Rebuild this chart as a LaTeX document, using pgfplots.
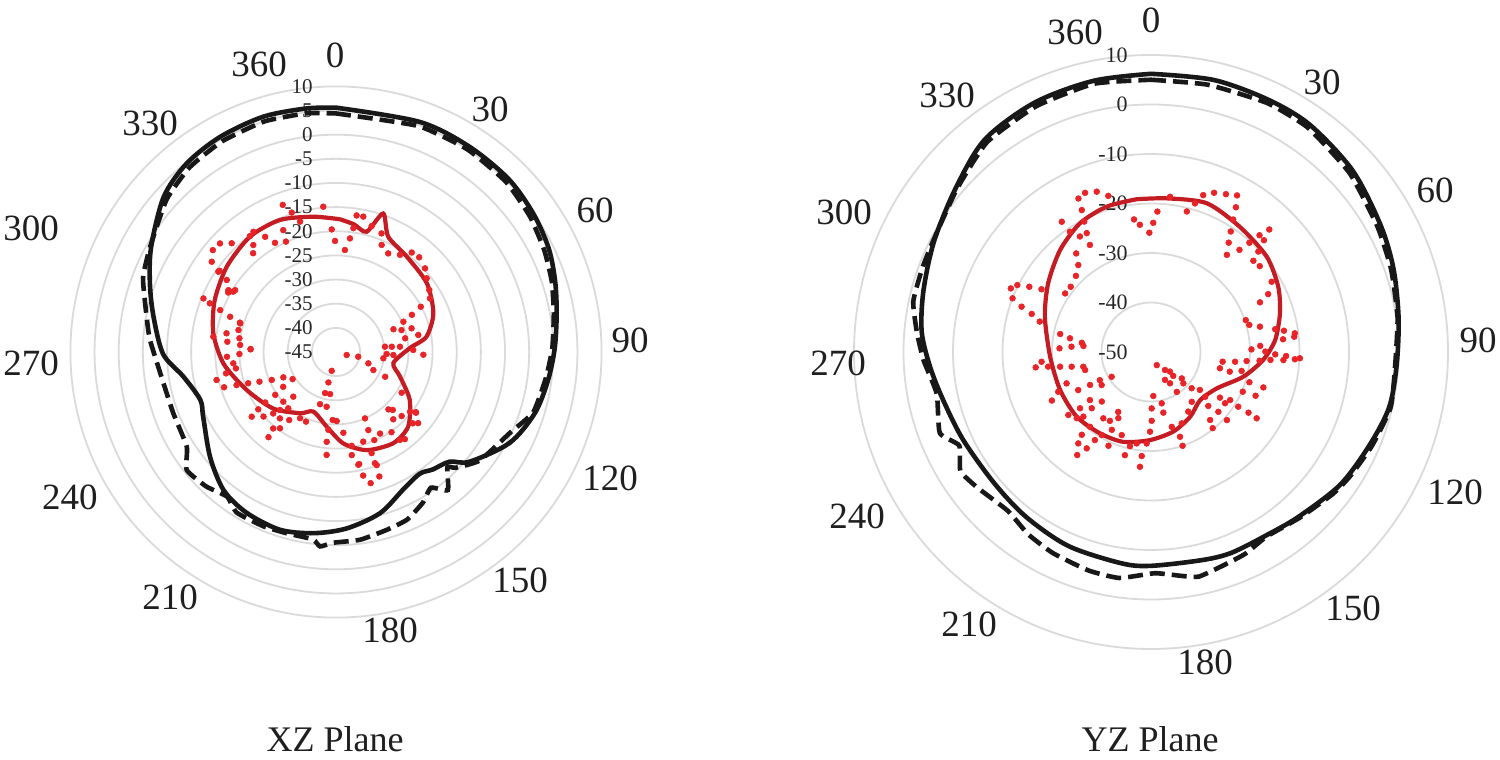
\documentclass[border=0pt]{standalone}
\usepackage{fontspec}
\setmainfont{Liberation Serif}
\usepackage{pgfplots}
\pgfplotsset{compat=1.18}
\usepackage{pgfplotstable}
\usepgfplotslibrary{polar}
\definecolor{gridgray}{RGB}{218,218,218}
\definecolor{curveblack}{RGB}{24,24,24}
\definecolor{redline}{RGB}{196,28,34}
\definecolor{reddot}{RGB}{232,36,40}

% ---------------- XZ plane ----------------
\pgfplotstableread{
a v
0 5.6
20 5.7
33 5.7
45 5.6
55 4.9
64 4.0
72 2.7
80 1.4
89 0.3
97.5 -0.7
107 -1.9
117.6 -4.4
129.4 -9.2
134 -12.3
140.6 -13.5
145.5 -14.4
154 -13.3
164.7 -10.4
176.5 -8.4
187 -7.2
197.5 -6.4
209 -6.9
219 -8.1
230 -11.0
244 -14.4
250.6 -15.2
260.8 -13.0
269.3 -9.2
281 -6.5
290 -4.0
299.5 -1.0
312 3.0
321.6 4.8
331.7 5.6
342.8 6.0
353 5.8
360 5.6
}\LBs

\pgfplotstableread{
a v
0 4.4
20 4.8
33 5.0
45 4.8
55 4.0
64 3.0
72 2.0
80 0.8
89 -0.2
97 -1.2
107 -2.3
115 -5.3
127 -7.7
134 -10.5
136 -11.8
141 -8.2
145 -10.7
150 -9.0
157 -7.3
164 -6.7
172.7 -5.8
180.8 -5.5
184.7 -4.6
187 -5.9
195 -6.1
202.6 -5.9
211.7 -5.9
217 -7.5
224 -6.3
231.7 -5.6
237.6 -8.4
249.4 -9.0
259.7 -8.7
273.7 -6.4
280.6 -5.1
291 -2.2
299.4 -0.8
312 2.2
321.6 3.8
331.7 4.6
342.8 5.0
353 4.8
360 4.4
}\LBd

\pgfplotstableread{
a v
1.7 -17.5
8 -18.3
14.3 -19.3
18.8 -14.7
24.4 -18.8
36.6 -20.4
52.9 -21.4
68.3 -23.3
80.4 -26.0
87 -29.7
101 -32.9
111 -30.8
123 -26.8
136 -23.5
147.9 -22.7
162.6 -23.7
175.4 -26.0
187 -29.4
200.8 -31.8
210.4 -30.3
228 -27.5
247 -24.9
264 -21.6
278.7 -19.3
293 -17.7
308 -16.3
323.3 -15.2
337 -15.3
350.5 -16.6
361.7 -17.5
}\LRs

\pgfplotstableread{
a v
340.1 -12.6
355 -14.8
8.6 -16.4
11.4 -16.4
358 -19.6
325.5 -14.8
323.4 -15.1
328.4 -17.0
330.8 -19.1
335.6 -19.9
313.1 -12.1
316.2 -13.8
309.6 -11.9
322.3 -17.0
320 -18.3
359.5 -22.0
7 -21.3
21 -18.7
23.1 -20.9
27.9 -21.9
33.4 -20.9
37.3 -19.1
41.3 -18.9
46.8 -19.7
50.9 -20.8
56.4 -21.8
60.3 -22.6
61.9 -25.1
63.9 -27.5
65.8 -29.7
68.4 -32.2
71.5 -30.7
72.6 -28.6
78.3 -27.6
78.8 -30.4
85.3 -31.7
84.6 -33.4
83.8 -34.8
92.3 -34.5
88.5 -29.0
93 -33.1
97.6 -35.1
115.8 -36.4
109.3 -37.9
101.9 -40.3
105.7 -42.7
192.8 -41.0
194 -38.5
194.9 -36.2
188 -36.2
189.7 -33.5
197 -33.7
182.8 -30.9
179.4 -30.7
185.6 -28.8
174.8 -28.2
185.9 -26.3
170.5 -25.3
163.1 -25.6
160.6 -22.8
156.5 -25.1
157.5 -27.5
156.4 -30.0
151.6 -25.8
145.3 -24.8
144 -22.5
141.7 -22.0
137.6 -28.9
135.6 -28.2
139.6 -26.7
134.3 -26.0
128.9 -25.3
127 -24.3
130.9 -22.5
121.8 -29.0
116.7 -33.6
185.2 -23.6
171.3 -23.4
168.3 -21.3
167.6 -18.8
160.7 -20.6
292 -15.4
291.1 -17.0
289.9 -19.5
277.1 -19.4
279.7 -22.0
275.4 -22.4
278.1 -24.8
274.2 -25.1
268.8 -25.0
272 -27.3
288.4 -21.9
286.6 -24.3
267.5 -22.4
263.7 -23.6
260.7 -24.0
256.8 -19.6
252.5 -20.7
259 -21.8
251.6 -23.3
250.4 -25.7
248.8 -28.0
246.5 -30.5
244.3 -32.9
238 -34.4
236.6 -31.9
223.7 -32.2
234.8 -29.6
234.5 -27.0
226.7 -30.0
220.3 -29.7
224 -28.3
225.6 -26.8
233.6 -25.0
232.5 -23.0
228.3 -24.9
220.2 -27.0
214.5 -27.9
208.5 -29.4
203.3 -29.3
219.4 -24.5
216.3 -25.4
218.4 -22.5
299.9 -19.3
303.4 -17.9
304.3 -15.5
300.4 -20.3
342.4 -14.7
344.6 -17.0
336.6 -17.5
5 -23.8
15.8 -17.9
8 -19.1
165.2 -16.9
160.8 -17.7
160.2 -20.1
168.8 -21.2
91.8 -26.9
132.9 -23.3
127.2 -24.2
306 -13.2
304.9 -15.6
298.9 -19.5
301.5 -20.5
287 -24.2
282.7 -24.3
271.8 -27.3
}\LRd

% ---------------- YZ plane ----------------
\pgfplotstableread{
a v
0 6.2
13 6.4
25 6.2
35 6.0
48 4.8
61 3.0
71 1.8
82 0.5
93 -0.3
103 -0.6
113 -2.0
125 -3.3
138 -5.3
147 -6.2
158 -6.3
166 -6.7
180 -6.8
188 -6.9
203 -7.4
217 -8.2
230 -8.7
245 -8.1
257 -6.9
266 -5.3
275 -3.5
285 -2.4
297 -0.8
310 1.5
322 4.5
335 5.6
348 6.0
360 6.2
}\RBs

\pgfplotstableread{
a v
0 5.0
12 5.2
25 5.5
35 5.3
48 4.0
61 2.3
71 1.3
82 0.3
93 -0.6
103 -0.3
113 -1.5
122 -2.6
128 -3.4
138 -5.0
148 -6.0
155 -5.0
162 -4.4
168 -3.6
172 -4.3
179 -5.3
188 -3.9
196 -4.1
206 -4.8
214 -5.6
222 -6.8
232 -5.5
238 -4.6
244 -6.9
249 -4.3
259 -5.9
268 -4.0
275 -2.5
282 -0.9
290 -0.8
297 -0.6
310 1.2
322 3.8
335 4.8
348 5.4
360 5.0
}\RBd

\pgfplotstableread{
a v
-5.4 -19.0
5.8 -18.8
20.5 -17.9
35.4 -19.0
50.5 -19.7
62.8 -21.1
73.3 -22.8
84.5 -24.8
94.1 -27.3
105 -30.7
118.9 -34.8
134.4 -36.1
148.9 -34.7
164.4 -33.3
180.7 -32.2
197.2 -31.0
212.1 -30.6
228.9 -30.1
247.3 -30.1
267.3 -29.6
288.4 -27.4
303.8 -25.0
318.3 -22.4
331.1 -20.3
343 -19.3
354.6 -19.0
}\RRs

\pgfplotstableread{
a v
334.7 -15.7
337.5 -15.2
341.3 -15.8
344.7 -17.3
334 -18.1
332.9 -20.4
325.6 -18.1
326 -20.7
328.4 -22.6
331.6 -22.7
330.3 -25.1
322.8 -25.0
320.1 -27.1
315.4 -28.4
309.1 -29.1
304.3 -29.0
352.7 -23.0
355 -24.2
359.2 -25.9
1 -23.9
2.6 -21.6
7 -18.4
14.3 -20.7
16.5 -18.7
18.4 -16.6
21.6 -15.4
25.4 -14.7
28.8 -13.9
30.4 -16.1
31.8 -18.5
33.5 -20.8
35.4 -22.9
40.9 -22.7
38 -25.1
42 -20.3
42.9 -17.8
45.3 -17.9
44 -15.6
46.9 -20.3
48.3 -22.3
51.7 -22.0
59.8 -21.8
63.7 -23.6
65.5 -25.8
71.4 -29.8
74.6 -29.4
76.9 -27.4
79.6 -24.5
80.9 -22.8
84.5 -23.2
82.6 -20.7
83.9 -20.9
88.5 -29.7
86.8 -27.9
89.8 -26.9
91.1 -24.9
91.7 -22.7
93.5 -23.2
92.9 -20.9
92.4 -19.9
93.8 -25.8
94.6 -28.0
95.4 -30.6
96.6 -32.9
97.7 -35.4
103.3 -35.7
104 -33.6
101.8 -31.3
107.1 -29.2
107.5 -26.2
112.7 -27.1
113.4 -29.8
121.3 -31.3
123.5 -33.3
124.7 -31.8
122.1 -29.2
121.9 -26.8
122.1 -24.8
131.9 -29.4
131.6 -31.8
133.3 -34.1
139 -31.8
141 -30.2
129.6 -35.8
127.8 -37.5
131.7 -39.0
134.1 -40.9
130.6 -41.8
137.1 -43.4
136 -44.5
142.1 -45.4
156.3 -47.1
153.4 -43.7
148.7 -42.6
147.1 -40.4
140.7 -37.0
148 -35.8
156.7 -34.3
161.1 -31.9
161.4 -30.0
164.5 -34.3
168.5 -37.5
168.2 -39.4
177 -41.1
179.3 -38.6
179.4 -36.1
180.7 -33.9
182.7 -31.5
185.1 -28.9
185.5 -26.7
194.2 -28.5
192.6 -30.5
188.9 -31.3
199.4 -32.2
206.7 -32.4
206.3 -35.1
208.7 -36.2
210.8 -33.8
215.7 -33.5
204.4 -29.2
210.7 -30.5
212.5 -28.9
213.7 -26.6
218.5 -26.4
215.6 -24.4
219.9 -28.2
219.2 -30.5
294.4 -18.9
296.6 -19.8
298.2 -22.1
299.8 -24.5
291.2 -20.0
289.3 -22.3
287.7 -24.7
285.3 -26.7
281.2 -31.3
272.3 -31.5
279.6 -33.4
273.8 -33.9
277.6 -35.9
275.1 -36.3
262.4 -26.5
264.9 -27.8
261.9 -29.0
260.8 -31.4
259.5 -33.7
257.7 -36.0
254.7 -36.2
241.2 -38.2
236.2 -38.0
237.8 -40.6
242.4 -33.4
241.6 -36.0
249.6 -31.8
246.8 -29.6
243.9 -27.7
232.7 -29.0
231.6 -31.7
231.8 -34.3
226.5 -33.5
224.8 -35.9
226.3 -31.1
228.3 -29.9
}\RRd

\pgfplotsset{
  rpolar/.style={
    scale only axis,
    anchor=center,
    xmin=0, xmax=360, ymin=0,
    xtick=\empty,
    yticklabels={},
    ymajorgrids=true, xmajorgrids=false,
    grid style={draw=gridgray, line width=0.9pt},
    axis line style={draw=none},
    major tick length=0pt,
    clip=false,
  },
  solidblack/.style={curveblack, line width=2.3pt, smooth, tension=0.5},
  dashblack/.style={curveblack, line width=2.3pt, dash pattern=on 7.5pt off 3.5pt, smooth, tension=0.3},
  redsolid/.style={redline, line width=2.1pt, smooth, tension=0.45},
  reddots/.style={color=reddot, only marks, mark=*, mark size=1.45pt, mark options={solid, draw=reddot, fill=reddot, line width=0.3pt}},
}
\tikzset{
  albl/.style={inner sep=0pt, anchor=center, font=\fontsize{18.5}{20}\selectfont, text=black!88},
  rlblL/.style={anchor=east, xshift=-11.5pt, inner sep=0pt, font=\fontsize{10.5}{12}\selectfont, text=black!85},
  rlblR/.style={anchor=east, xshift=-11.5pt, inner sep=0pt, font=\fontsize{11}{12}\selectfont, text=black!85},
}

\begin{document}
\begin{tikzpicture}
\useasboundingbox (0,0) rectangle (750pt,380pt);

% ===== XZ Plane =====
\begin{polaraxis}[rpolar,
  width=265.6pt, height=265.6pt, at={(168pt,204pt)},
  ymax=55, ytick={5,10,15,20,25,30,35,40,45,50,55}]
\node[rlblL] at (axis cs:90,55) {10};
\node[rlblL] at (axis cs:90,50) {5};
\node[rlblL] at (axis cs:90,45) {0};
\node[rlblL] at (axis cs:90,40) {-5};
\node[rlblL] at (axis cs:90,35) {-10};
\node[rlblL] at (axis cs:90,30) {-15};
\node[rlblL] at (axis cs:90,25) {-20};
\node[rlblL] at (axis cs:90,20) {-25};
\node[rlblL] at (axis cs:90,15) {-30};
\node[rlblL] at (axis cs:90,10) {-35};
\node[rlblL] at (axis cs:90,5) {-40};
\node[rlblL] at (axis cs:90,0) {-45};
\addplot[solidblack] table[x expr=90-\thisrow{a}, y expr=\thisrow{v}+45] {\LBs};
\addplot[dashblack] table[x expr=90-\thisrow{a}, y expr=\thisrow{v}+45] {\LBd};
\addplot[reddots] table[x expr=90-\thisrow{a}, y expr=\thisrow{v}+45] {\LRd};
\addplot[redsolid] table[x expr=90-\thisrow{a}, y expr=\thisrow{v}+45] {\LRs};
\end{polaraxis}

% ===== YZ Plane =====
\begin{polaraxis}[rpolar,
  width=297pt, height=297pt, at={(575.5pt,204pt)},
  ymax=60, ytick={10,20,30,40,50,60}]
\node[rlblR] at (axis cs:90,60) {10};
\node[rlblR] at (axis cs:90,50) {0};
\node[rlblR] at (axis cs:90,40) {-10};
\node[rlblR] at (axis cs:90,30) {-20};
\node[rlblR] at (axis cs:90,20) {-30};
\node[rlblR] at (axis cs:90,10) {-40};
\node[rlblR] at (axis cs:90,0) {-50};
\addplot[solidblack] table[x expr=90-\thisrow{a}, y expr=\thisrow{v}+50] {\RBs};
\addplot[dashblack] table[x expr=90-\thisrow{a}, y expr=\thisrow{v}+50] {\RBd};
\addplot[reddots] table[x expr=90-\thisrow{a}, y expr=\thisrow{v}+50] {\RRd};
\addplot[redsolid] table[x expr=90-\thisrow{a}, y expr=\thisrow{v}+50] {\RRs};
\end{polaraxis}

% angle labels, left
\node[albl] at (167.5pt,352.5pt) {0};
\node[albl] at (245pt,325.5pt) {30};
\node[albl] at (297.5pt,275pt) {60};
\node[albl] at (315pt,210pt) {90};
\node[albl] at (305pt,141pt) {120};
\node[albl] at (260pt,90pt) {150};
\node[albl] at (195pt,65pt) {180};
\node[albl] at (85pt,81.5pt) {210};
\node[albl] at (35pt,131.5pt) {240};
\node[albl] at (15.5pt,198.5pt) {270};
\node[albl] at (15.5pt,266pt) {300};
\node[albl] at (75pt,318.5pt) {330};
\node[albl] at (129.5pt,348pt) {360};
% angle labels, right
\node[albl] at (575.5pt,370pt) {0};
\node[albl] at (661pt,339pt) {30};
\node[albl] at (717.5pt,285pt) {60};
\node[albl] at (739pt,210pt) {90};
\node[albl] at (727.5pt,134pt) {120};
\node[albl] at (676.5pt,76pt) {150};
\node[albl] at (602.5pt,49pt) {180};
\node[albl] at (484.5pt,68pt) {210};
\node[albl] at (428.5pt,122pt) {240};
\node[albl] at (419pt,198.5pt) {270};
\node[albl] at (422pt,274pt) {300};
\node[albl] at (473.5pt,332.5pt) {330};
\node[albl] at (537.5pt,364pt) {360};

% titles
\node[anchor=base, inner sep=0pt, font=\fontsize{18}{20}\selectfont, text=black!88] at (167.5pt,4pt) {XZ Plane};
\node[anchor=base, inner sep=0pt, font=\fontsize{18}{20}\selectfont, text=black!88] at (575pt,4pt) {YZ Plane};
\end{tikzpicture}
\end{document}
